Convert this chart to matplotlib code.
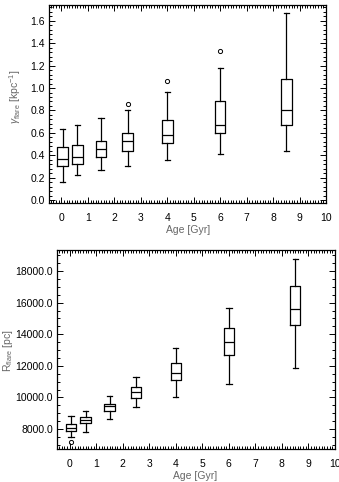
import matplotlib
matplotlib.use("Agg")
import matplotlib.pyplot as plt
from matplotlib.ticker import MultipleLocator, AutoMinorLocator

plt.rcParams['font.family'] = ['Liberation Sans', 'DejaVu Sans']
plt.rcParams['mathtext.fontset'] = 'custom'
plt.rcParams['mathtext.rm'] = 'Liberation Sans'
plt.rcParams['mathtext.it'] = 'Liberation Sans:italic'

# box positions (age in Gyr)
ages = [0.05, 0.6, 1.5, 2.5, 4.0, 6.0, 8.5]

# top panel: flare rate gamma [kpc^-1]
g_low = [0.164, 0.226, 0.268, 0.306, 0.360, 0.410, 0.440]
g_q1 = [0.305, 0.327, 0.381, 0.440, 0.514, 0.595, 0.672]
g_med = [0.369, 0.387, 0.458, 0.529, 0.577, 0.672, 0.800]
g_q3 = [0.470, 0.494, 0.526, 0.598, 0.711, 0.883, 1.083]
g_high = [0.639, 0.666, 0.729, 0.800, 0.961, 1.181, 1.671]
g_fliers = [[], [], [], [0.862], [1.065], [1.332], []]

# bottom panel: flare radius [pc]
r_low = [7474, 7789, 8632, 9411, 10042, 10842, 11895]
r_q1 = [7874, 8358, 9137, 9937, 11116, 12695, 14611]
r_med = [8084, 8589, 9432, 10316, 11579, 13495, 15621]
r_q3 = [8316, 8737, 9600, 10632, 12211, 14379, 17053]
r_high = [8821, 9116, 10063, 11284, 13158, 15642, 18737]
r_fliers = [[7200], [], [], [], [], [], []]


def make_stats(low, q1, med, q3, high, fliers):
    return [dict(whislo=a, q1=b, med=c, q3=d, whishi=e, fliers=f)
            for a, b, c, d, e, f in zip(low, q1, med, q3, high, fliers)]


def draw(ax, stats):
    lw = 0.9
    ax.bxp(stats, positions=ages, widths=0.4, manage_ticks=False,
           boxprops=dict(color='black', linewidth=lw),
           whiskerprops=dict(color='black', linewidth=lw),
           capprops=dict(color='black', linewidth=lw),
           medianprops=dict(color='black', linewidth=lw),
           flierprops=dict(marker='o', markersize=3, markerfacecolor='none',
                           markeredgecolor='black', markeredgewidth=0.7))
    ax.set_xlim(-0.47, 10)
    ax.xaxis.set_major_locator(MultipleLocator(1))
    ax.xaxis.set_minor_locator(MultipleLocator(0.1))
    ax.tick_params(which='both', direction='in', top=True, right=True,
                   labelsize=7.5, width=0.7)
    ax.tick_params(axis='x', pad=7)
    ax.tick_params(axis='y', pad=3)
    ax.tick_params(which='major', length=4)
    ax.tick_params(which='minor', length=2)
    for s in ax.spines.values():
        s.set_linewidth(0.9)


fig = plt.figure(figsize=(3.39, 4.82), dpi=100)
grey = '#666666'

ax1 = fig.add_axes([0.1445, 0.5788, 0.8172, 0.4108])
draw(ax1, make_stats(g_low, g_q1, g_med, g_q3, g_high, g_fliers))
ax1.set_ylim(-0.025, 1.74)
ax1.yaxis.set_major_locator(MultipleLocator(0.2))
ax1.yaxis.set_minor_locator(AutoMinorLocator(5))
ax1.yaxis.set_major_formatter(plt.FormatStrFormatter('%.1f'))
fig.text(0.555, 0.523, 'Age [Gyr]', fontsize=7.5, color=grey,
         ha='center', va='center')
fig.text(15 / 339, 0.80, r'$\gamma_{\rm flare}$ [kpc$^{-1}$]', fontsize=7.5,
         color=grey, rotation=90, ha='center', va='center')

ax2 = fig.add_axes([0.169, 0.0685, 0.819, 0.4128])
draw(ax2, make_stats(r_low, r_q1, r_med, r_q3, r_high, r_fliers))
ax2.set_ylim(6740, 19330)
ax2.yaxis.set_major_locator(MultipleLocator(2000))
ax2.yaxis.set_minor_locator(AutoMinorLocator(4))
ax2.yaxis.set_major_formatter(plt.FormatStrFormatter('%.1f'))
fig.text(0.575, 0.0125, 'Age [Gyr]', fontsize=7.5, color=grey,
         ha='center', va='center')
fig.text(8 / 339, 0.272, r'R$_{\rm flare}$ [pc]', fontsize=7.5,
         color=grey, rotation=90, ha='center', va='center')

fig.savefig('out.png', dpi=100)
